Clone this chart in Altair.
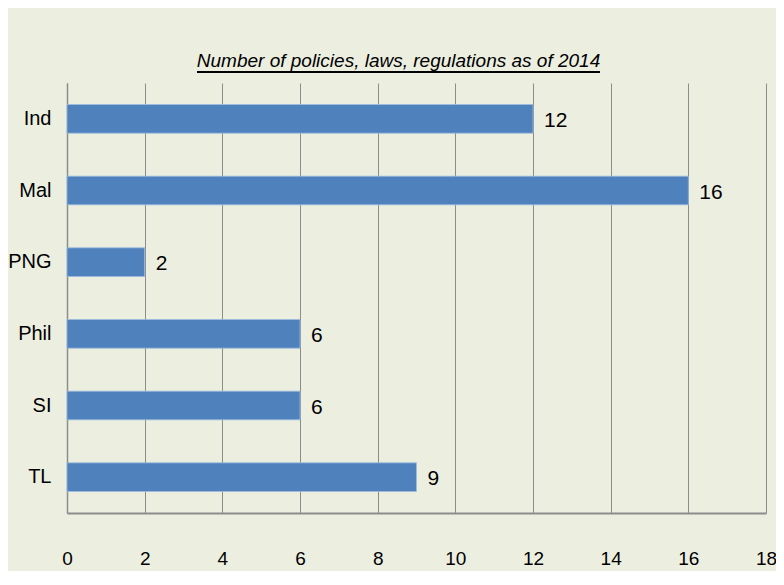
import altair as alt
import pandas as pd

countries = ["Ind", "Mal", "PNG", "Phil", "SI", "TL"]
counts = [12, 16, 2, 6, 6, 9]
x_ticks = [0, 2, 4, 6, 8, 10, 12, 14, 16, 18]

df = pd.DataFrame({"country": countries, "count": counts})

FONT = "Liberation Sans, Arial, sans-serif"

base = alt.Chart(df).encode(
    y=alt.Y(
        "country:N",
        sort=countries,
        scale=alt.Scale(paddingInner=0.6, paddingOuter=0.3),
        axis=alt.Axis(
            title=None, ticks=False, domain=True, domainColor="#8c8c8c",
            domainWidth=1.5, labelFontSize=20, labelFont=FONT, labelColor="#000000",
            labelPadding=16, grid=False,
        ),
    ),
    x=alt.X(
        "count:Q",
        scale=alt.Scale(domain=[0, 18], nice=False),
        axis=alt.Axis(
            title=None, values=x_ticks, ticks=False, domain=True,
            domainColor="#8c8c8c", domainWidth=2, grid=True, gridColor="#8c8c8c",
            gridWidth=1, labelFontSize=19, labelFont=FONT, labelColor="#000000",
            labelPadding=36, labelFlush=False,
        ),
    ),
)

bars = base.mark_bar(color="#4f81bd", stroke="#9dbbe0", strokeWidth=0.8)
labels = base.mark_text(
    align="left", baseline="middle", dx=11, dy=2, fontSize=21, font=FONT, color="#000000"
).encode(text="count:Q")

underline = alt.Chart(df).mark_rule(color="#000000", strokeWidth=1.6).encode(
    x=alt.value(130), x2=alt.value(533), y=alt.value(-11)
)

chart = (
    alt.layer(bars, labels, underline)
    .properties(
        width=699,
        height=430,
        title=alt.TitleParams(
            "Number of policies, laws, regulations as of 2014",
            fontSize=19, font=FONT, fontStyle="italic", fontWeight="normal",
            color="#000000", offset=0, dx=-18,
        ),
        autosize=alt.AutoSizeParams(type="none"),
        padding={"left": 59, "top": 75, "right": 10, "bottom": 58},
        background="#ecefe0",
    )
    .configure_view(stroke=None)
)

chart.save("out.html", embed_options={"renderer": "svg", "actions": False})
